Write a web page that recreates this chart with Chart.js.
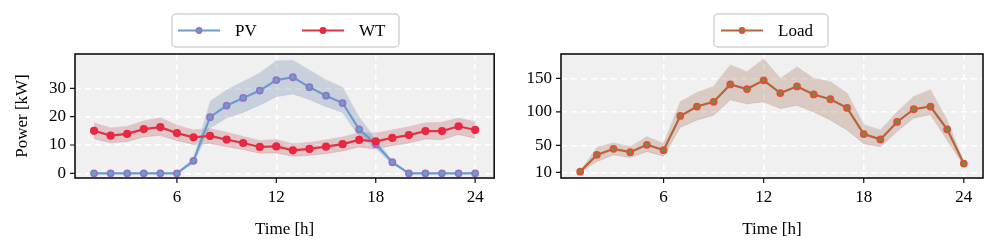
<!DOCTYPE html>
<html>
<head>
<meta charset="utf-8">
<script src="https://cdn.jsdelivr.net/npm/chart.js@4.4.1/dist/chart.umd.min.js"></script>
<style>
  body { margin: 0; background: #fff; }
  .wrap { position: relative; width: 997px; height: 252px; }
  .panel { position: absolute; top: 0; height: 252px; }
</style>
</head>
<body>
<div class="wrap">
  <div class="panel" style="left:0;width:500px"><canvas id="genChart"></canvas></div>
  <div class="panel" style="left:500px;width:497px"><canvas id="loadChart"></canvas></div>
</div>
<script>
// hours of the day
const hours = [1, 2, 3, 4, 5, 6, 7, 8, 9, 10, 11, 12, 13, 14, 15, 16, 17, 18, 19, 20, 21, 22, 23, 24];
const timeTicks = [6, 12, 18, 24];

// PV generation (kW) with its band
const pv     = [0, 0, 0, 0, 0, 0, 4.4, 19.8, 23.9, 26.6, 29.2, 32.9, 33.9, 30.4, 27.4, 24.8, 15.5, 10.3, 3.9, 0, 0, 0, 0, 0];
const pvHigh = [0, 0, 0, 0, 0, 0, 5.5, 25.5, 29.5, 32.5, 35.5, 39.8, 40.0, 36.5, 33.0, 30.5, 20.0, 12.2, 4.6, 0, 0, 0, 0, 0];
const pvLow  = [0, 0, 0, 0, 0, 0, 3.4, 16.0, 19.5, 21.5, 24.0, 27.0, 28.0, 26.0, 23.5, 21.5, 12.8, 8.8, 3.2, 0, 0, 0, 0, 0];

// WT generation (kW) with its band
const wt     = [15.0, 13.3, 13.9, 15.6, 16.3, 14.2, 12.7, 13.2, 11.9, 10.7, 9.3, 9.5, 8.1, 8.6, 9.4, 10.3, 11.8, 11.3, 12.5, 13.5, 14.9, 14.9, 16.6, 15.3];
const wtHigh = [17.8, 16.0, 16.6, 18.5, 19.6, 17.0, 15.3, 15.8, 14.5, 13.0, 11.6, 11.9, 10.4, 10.9, 11.8, 12.8, 14.3, 14.2, 15.3, 16.4, 17.8, 18.0, 19.5, 18.2];
const wtLow  = [12.2, 10.8, 11.2, 12.9, 13.4, 11.6, 10.2, 10.6, 9.4, 8.4, 7.1, 7.2, 6.0, 6.3, 7.0, 7.9, 9.3, 8.6, 9.8, 10.7, 12.1, 11.9, 13.7, 12.4];
const genTicks = [0, 10, 20, 30];

// Load (kW) with its band
const load     = [11, 36, 45, 40, 51, 43, 94, 108, 115, 141, 134, 147, 128, 138, 126, 119, 106, 67, 59, 85, 104, 108, 74, 23];
const loadHigh = [12, 47, 54, 48, 63, 53, 115, 129, 138, 170, 160, 179, 150, 167, 150, 145, 128, 81, 73, 100, 123, 133, 88, 25];
const loadLow  = [10, 26, 36, 32, 41, 34, 77, 88, 95, 118, 112, 115, 105, 110, 100, 88, 73, 53, 48, 71, 91, 96, 58, 20];
const loadTicks = [10, 50, 100, 150];

const FONT = "'Liberation Serif', 'Times New Roman', serif";
Chart.defaults.font.family = FONT;
Chart.defaults.font.size = 17;
Chart.defaults.color = "#000";

function pts(ys) {
  return hours.map((h, i) => ({ x: h, y: ys[i] }));
}

function band(hi, lo, color, edge) {
  return [
    { data: pts(hi), fill: "+1", backgroundColor: color, borderColor: edge, borderWidth: 1, pointRadius: 0, order: 10 },
    { data: pts(lo), fill: false, borderColor: edge, borderWidth: 1, pointRadius: 0, order: 10 },
  ];
}

function mainLine(ys, color, face, edge, r) {
  return {
    data: pts(ys), borderColor: color, borderWidth: 2.2, fill: false,
    pointRadius: r, pointBackgroundColor: face, pointBorderColor: edge, pointBorderWidth: 1.8,
    order: 1,
  };
}

// background, frame, ticks and legend
const framePlugin = {
  id: "frame",
  beforeDraw(chart) {
    const a = chart.chartArea;
    const ctx = chart.ctx;
    ctx.save();
    ctx.fillStyle = "#f0f0f0";
    ctx.fillRect(a.left, a.top, a.right - a.left, a.bottom - a.top);
    ctx.restore();
  },
  afterDraw(chart) {
    const a = chart.chartArea;
    const ctx = chart.ctx;
    ctx.save();
    ctx.strokeStyle = "#111";
    ctx.lineWidth = 1.6;
    ctx.strokeRect(a.left, a.top, a.right - a.left, a.bottom - a.top);
    ctx.lineWidth = 1.2;
    ctx.beginPath();
    chart.scales.x.ticks.forEach(t => {
      const px = chart.scales.x.getPixelForValue(t.value);
      ctx.moveTo(px, a.bottom);
      ctx.lineTo(px, a.bottom + 5);
    });
    chart.scales.y.ticks.forEach(t => {
      const py = chart.scales.y.getPixelForValue(t.value);
      ctx.moveTo(a.left, py);
      ctx.lineTo(a.left - 5, py);
    });
    ctx.stroke();

    const lg = chart.options.plugins.frame.legend;
    ctx.fillStyle = "rgba(255,255,255,0.9)";
    ctx.strokeStyle = "#d3d3d3";
    ctx.lineWidth = 1.5;
    ctx.beginPath();
    ctx.roundRect(lg.x, lg.y, lg.w, lg.h, 4);
    ctx.fill();
    ctx.stroke();
    const cy = lg.y + lg.h / 2;
    lg.items.forEach(it => {
      ctx.strokeStyle = it.color;
      ctx.lineWidth = 2.2;
      ctx.beginPath();
      ctx.moveTo(it.x, cy);
      ctx.lineTo(it.x + 42, cy);
      ctx.stroke();
      ctx.beginPath();
      ctx.arc(it.x + 21, cy, 2.6, 0, Math.PI * 2);
      ctx.fillStyle = it.face;
      ctx.fill();
      ctx.strokeStyle = it.edge;
      ctx.lineWidth = 1.6;
      ctx.stroke();
      ctx.fillStyle = "#000";
      ctx.font = "17px " + FONT;
      ctx.textBaseline = "middle";
      ctx.textAlign = "left";
      ctx.fillText(it.label, it.x + 57, cy + 1);
    });
    ctx.restore();
  },
};

function makeOptions(yMin, yMax, yTicks, yWidth, padRight, yTitle, legend) {
  return {
    responsive: true,
    maintainAspectRatio: false,
    animation: false,
    layout: { padding: { top: 54, right: padRight, left: 0, bottom: 0 } },
    plugins: {
      legend: { display: false },
      tooltip: { enabled: false },
      frame: { legend: legend },
    },
    scales: {
      x: {
        type: "linear",
        min: -0.15,
        max: 25.15,
        afterBuildTicks: s => { s.ticks = timeTicks.map(v => ({ value: v })); },
        afterFit: s => { s.height = 74; },
        ticks: { padding: 4, maxRotation: 0 },
        grid: { color: "#fff", lineWidth: 1.5, tickLength: 5, tickColor: "rgba(0,0,0,0)" },
        border: { display: false, dash: [6, 4] },
        title: { display: true, text: "Time [h]", padding: { top: 0, bottom: 12 } },
      },
      y: {
        min: yMin,
        max: yMax,
        afterBuildTicks: s => { s.ticks = yTicks.map(v => ({ value: v })); },
        afterFit: s => { s.width = yWidth; },
        ticks: { padding: 4 },
        grid: { color: "#fff", lineWidth: 1.5, tickLength: 5, tickColor: "rgba(0,0,0,0)" },
        border: { display: false, dash: [6, 4] },
        title: { display: !!yTitle, text: yTitle, padding: { top: 12, bottom: 0 } },
      },
    },
  };
}

new Chart(document.getElementById("genChart"), {
  type: "line",
  data: {
    datasets: [
      ...band(pvHigh, pvLow, "rgba(125,150,180,0.35)", "rgba(215,225,235,0.8)"),
      ...band(wtHigh, wtLow, "rgba(190,95,105,0.3)", "rgba(225,200,205,0.8)"),
      mainLine(wt, "#dc3545", "#f0263f", "#e62840", 3.2),
      mainLine(pv, "#6a9bcc", "#62a8bc", "#9470d0", 3),
    ],
  },
  options: makeOptions(-1.65, 42.1, genTicks, 75, 3, "Power [kW]", {
    x: 172, y: 14, w: 227, h: 33,
    items: [
      { label: "PV", color: "#6a9bcc", face: "#62a8bc", edge: "#9470d0", x: 178 },
      { label: "WT", color: "#dc3545", face: "#f0263f", edge: "#e62840", x: 302 },
    ],
  }),
  plugins: [framePlugin],
});

new Chart(document.getElementById("loadChart"), {
  type: "line",
  data: {
    datasets: [
      ...band(loadHigh, loadLow, "rgba(170,115,95,0.3)", "rgba(220,205,200,0.8)"),
      mainLine(load, "#b5653a", "#6f8f3c", "#e44c3c", 3),
    ],
  },
  options: makeOptions(1.5, 186.3, loadTicks, 61, 14, "", {
    x: 214, y: 14, w: 114, h: 33,
    items: [
      { label: "Load", color: "#b5653a", face: "#6f8f3c", edge: "#e44c3c", x: 221 },
    ],
  }),
  plugins: [framePlugin],
});
</script>
</body>
</html>
